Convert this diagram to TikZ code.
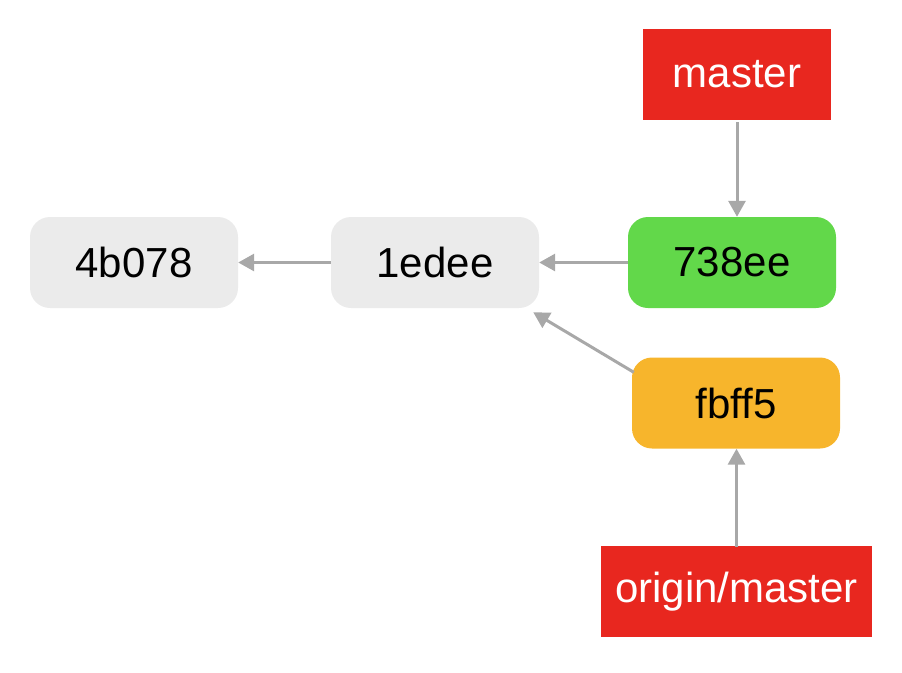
\documentclass[tikz,border=0pt]{standalone}
\usepackage{fontspec}
\setmainfont{Liberation Sans}
\usetikzlibrary{arrows.meta}
\definecolor{commitgray}{HTML}{EBEBEB}
\definecolor{headgreen}{HTML}{62D84A}
\definecolor{remoteorange}{HTML}{F7B52C}
\definecolor{refred}{HTML}{E8271F}
\definecolor{linkgray}{HTML}{A8A8A8}
\tikzset{
  commit/.style={minimum width=208pt, minimum height=91pt, rounded corners=20pt,
    inner sep=0pt, font=\fontsize{42}{50}\selectfont, text=black},
  refbox/.style={minimum height=91pt, inner sep=0pt, fill=refred, text=white,
    font=\fontsize{42}{50}\selectfont},
  link/.style={draw=linkgray, line width=3pt,
    -{Triangle[length=16pt, width=17pt]}}
}
\begin{document}
\begin{tikzpicture}[x=1pt, y=-1pt]
  \useasboundingbox (0,0) rectangle (902,672);
  \node[commit, fill=commitgray] (c1) at (134,262.5) {4b078};
  \node[commit, fill=commitgray] (c2) at (435,262.5) {1edee};
  \node[commit, fill=headgreen] (c3) at (732,262.5) {738ee};
  \node[commit, fill=remoteorange] (c4) at (736,403) {fbff5};
  \node[refbox, minimum width=188pt] (master) at (737,74.5) {master};
  \node[refbox, minimum width=271pt] (origin) at (736.5,591.5) {origin/master};

  \draw[link] (c2.west) -- (c1.east);
  \draw[link] (c3.west) -- (c2.east);
  \draw[link] ([yshift=-2pt]master.south) -- (master.south |- c3.north);
  \draw[link] ([yshift=-1pt]origin.north) -- (origin.north |- c4.south);
  \draw[link] ([xshift=2pt,yshift=-15pt]c4.north west) -- ([xshift=-6pt,yshift=-4pt]c2.south east);
\end{tikzpicture}
\end{document}
